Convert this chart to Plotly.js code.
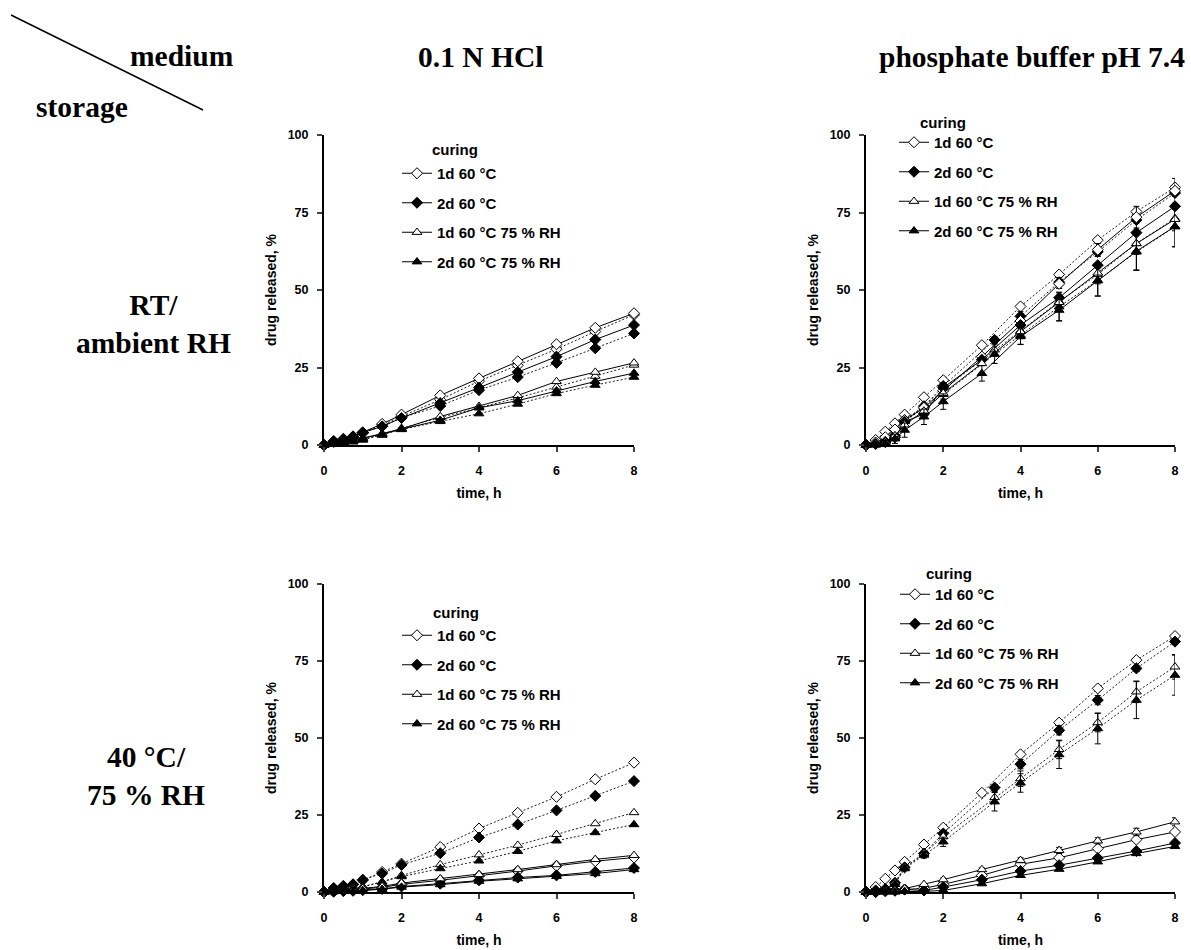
<!DOCTYPE html>
<html>
<head>
<meta charset="utf-8">
<script src="https://cdn.plot.ly/plotly-3.0.1.min.js"></script>
<style>html,body{margin:0;padding:0;background:#fff;}#chart{width:1191px;height:950px;}</style>
</head>
<body>
<div id="chart"></div>
<script>
// ---- data ----
const seriesNames = ["1d 60 °C", "2d 60 °C", "1d 60 °C 75 % RH", "2d 60 °C 75 % RH"];
const timeStd = [0, 0.25, 0.5, 0.75, 1, 1.5, 2, 3, 4, 5, 6, 7, 8];
const timeAlt = [0, 0.25, 0.5, 0.75, 1, 1.5, 2, 3.33, 4, 5, 6, 7, 8];

// 0.1 N HCl, initial (dotted)
const hclInit1 = [0, 1.0, 1.6, 2.4, 3.8, 6.5, 9.2, 14.6, 20.6, 25.7, 30.9, 36.6, 42.0];
const hclInit2 = [0, 1.3, 2.0, 2.5, 4.0, 6.0, 8.8, 12.6, 17.7, 21.9, 26.5, 31.2, 36.0];
const hclInit3 = [0, 0.4, 0.8, 1.2, 1.8, 3.3, 5.4, 8.9, 12.1, 15.2, 18.7, 22.2, 25.8];
const hclInit4 = [0, 0.3, 0.7, 1.0, 1.6, 3.2, 5.0, 7.6, 10.1, 13.2, 16.6, 19.3, 21.9];
// 0.1 N HCl, RT / ambient RH (solid)
const hclRT1 = [0, 1.1, 1.8, 2.8, 4.1, 6.8, 9.8, 16.0, 21.5, 27.0, 32.5, 37.8, 42.5];
const hclRT2 = [0, 1.1, 1.7, 2.7, 4.0, 6.0, 8.7, 13.5, 18.5, 23.5, 28.5, 34.0, 38.7];
const hclRT3 = [0, 0.5, 1.0, 1.5, 2.2, 3.7, 5.2, 9.2, 12.5, 16.0, 20.5, 23.5, 26.5];
const hclRT4 = [0, 0.5, 1.0, 1.5, 2.2, 3.5, 5.1, 8.0, 12.0, 14.3, 17.5, 20.5, 23.2];
// 0.1 N HCl, 40 °C / 75 % RH (solid)
const hcl40_1 = [0, 0.2, 0.4, 0.6, 1.0, 1.5, 2.5, 3.8, 5.2, 6.8, 8.5, 10.0, 11.2];
const hcl40_2 = [0, 0.1, 0.3, 0.4, 0.6, 1.0, 1.8, 2.7, 3.8, 4.7, 5.4, 6.5, 7.8];
const hcl40_3 = [0, 0.2, 0.4, 0.7, 1.2, 1.8, 2.9, 4.3, 5.7, 7.3, 8.9, 10.6, 11.9];
const hcl40_4 = [0, 0.1, 0.2, 0.3, 0.5, 0.9, 1.6, 2.4, 3.5, 4.3, 5.1, 6.0, 7.3];

// phosphate buffer pH 7.4, initial (dotted)
const phInit1 = [0, 1.6, 4.3, 7.0, 9.8, 15.4, 20.9, 32.2, 44.7, 55.0, 66.1, 75.3, 83.1];
const phInit2 = [0, 0.5, 1.0, 3.0, 8.0, 12.5, 19.0, 33.9, 41.5, 52.5, 62.3, 72.6, 81.3];
const phInit3 = [0, 0.3, 1.0, 3.0, 8.0, 12.5, 18.0, 30.7, 36.8, 46.3, 55.0, 65.0, 73.1];
const phInit4 = [0, 0.2, 0.8, 2.5, 7.6, 12.0, 16.3, 29.3, 35.4, 44.6, 53.1, 62.3, 70.4];
const phInitErr2 = [0, 0, 0, 0, 0.5, 0.5, 1, 1, 1.5, 1.5, 1.5, 1, 1];
const phInitErr3 = [0, 0, 0, 0, 0.5, 1, 1.5, 2, 2.5, 3, 3, 3.5, 4];
const phInitErr4 = [0, 0, 0, 0, 0.5, 1, 1.5, 3, 3, 4.5, 5, 6, 6.5];
// phosphate buffer, RT / ambient RH (solid)
const phRT1 = [0, 0.8, 2.5, 5.0, 8.0, 12.0, 17.5, 28.5, 40.0, 52.0, 63.0, 73.5, 82.0];
const phRT2 = [0, 0.3, 1.0, 2.5, 7.5, 10.0, 18.5, 27.5, 38.7, 47.5, 58.0, 68.5, 77.0];
const phRT3 = [0, 0.3, 1.0, 3.0, 6.5, 11.0, 16.7, 26.3, 36.6, 46.0, 55.5, 65.0, 72.8];
const phRT4 = [0, 0.0, 0.5, 2.0, 4.8, 9.1, 14.0, 23.1, 35.0, 43.5, 53.0, 62.5, 70.5];
const phRTErr1 = [0, 0, 0, 0, 0.5, 1, 1, 1, 1, 1.5, 2, 3.5, 4];
const phRTErr4 = [0, 0.5, 1, 1.5, 2.3, 2.5, 2.5, 2.5, 2.5, 3.5, 5, 6, 6.5];
// phosphate buffer, 40 °C / 75 % RH (solid)
const ph40_1 = [0, 0, 0.2, 0.4, 0.8, 1.2, 2.5, 5.4, 9.0, 11.1, 14.1, 17.0, 19.5];
const ph40_2 = [0, 0, 0.5, 0.5, 0.8, 0.5, 1.6, 4.0, 6.8, 8.7, 11.0, 13.3, 15.9];
const ph40_3 = [0, 0, 0.3, 0.5, 1.1, 2.5, 4.0, 7.3, 10.3, 13.5, 16.6, 19.5, 22.8];
const ph40_4 = [0, 0, 0, 0, 0.2, 0.2, 0.5, 2.7, 5.4, 7.4, 9.8, 12.5, 14.8];
const ph40Err3 = [0, 0, 0, 0, 0, 0, 0.5, 0.5, 0.8, 1, 1, 1.2, 1.3];

// ---- layout helpers ----
const W = 1191, H = 950;
const px = x => x / W;
const py = y => 1 - y / H;

const symbols = ["diamond", "diamond", "triangle-up", "triangle-up"];
const fills = ["white", "black", "white", "black"];

function mk(idx, x, y, ax, opts) {
  const o = opts || {};
  const t = {
    type: "scatter", mode: "lines+markers", x: x, y: y,
    xaxis: "x" + (ax === 1 ? "" : ax), yaxis: "y" + (ax === 1 ? "" : ax),
    name: seriesNames[idx], cliponaxis: false,
    line: {color: o.dotted ? "#222" : "black", width: 1, dash: o.dotted ? "2px,2px" : "solid"},
    marker: {symbol: symbols[idx], size: 8.5, color: fills[idx], line: {color: "black", width: 1}},
    showlegend: !o.dotted,
    legend: "legend" + (ax === 1 ? "" : ax),
    legendgroup: "g" + ax + "_" + idx,
    hoverinfo: "skip"
  };
  if (o.err) t.error_y = {type: "data", array: o.err, visible: true, color: "black", thickness: 1, width: 3};
  return t;
}

const traces = [
  // subplot 1: HCl, RT
  mk(0, timeStd, hclInit1, 1, {dotted: true}),
  mk(1, timeStd, hclInit2, 1, {dotted: true}),
  mk(2, timeStd, hclInit3, 1, {dotted: true}),
  mk(3, timeStd, hclInit4, 1, {dotted: true}),
  mk(0, timeStd, hclRT1, 1), mk(1, timeStd, hclRT2, 1), mk(2, timeStd, hclRT3, 1), mk(3, timeStd, hclRT4, 1),
  // subplot 2: phosphate, RT
  mk(0, timeStd, phInit1, 2, {dotted: true}),
  mk(1, timeAlt, phInit2, 2, {dotted: true, err: phInitErr2}),
  mk(2, timeAlt, phInit3, 2, {dotted: true, err: phInitErr3}),
  mk(3, timeAlt, phInit4, 2, {dotted: true, err: phInitErr4}),
  mk(0, timeStd, phRT1, 2, {err: phRTErr1}), mk(1, timeStd, phRT2, 2), mk(2, timeStd, phRT3, 2), mk(3, timeStd, phRT4, 2, {err: phRTErr4}),
  // subplot 3: HCl, 40 °C
  mk(0, timeStd, hclInit1, 3, {dotted: true}),
  mk(1, timeStd, hclInit2, 3, {dotted: true}),
  mk(2, timeStd, hclInit3, 3, {dotted: true}),
  mk(3, timeStd, hclInit4, 3, {dotted: true}),
  mk(0, timeStd, hcl40_1, 3), mk(1, timeStd, hcl40_2, 3), mk(2, timeStd, hcl40_3, 3), mk(3, timeStd, hcl40_4, 3),
  // subplot 4: phosphate, 40 °C
  mk(0, timeStd, phInit1, 4, {dotted: true}),
  mk(1, timeAlt, phInit2, 4, {dotted: true, err: phInitErr2}),
  mk(2, timeAlt, phInit3, 4, {dotted: true, err: phInitErr3}),
  mk(3, timeAlt, phInit4, 4, {dotted: true, err: phInitErr4}),
  mk(0, timeStd, ph40_1, 4), mk(1, timeStd, ph40_2, 4), mk(2, timeStd, ph40_3, 4, {err: ph40Err3}), mk(3, timeStd, ph40_4, 4)
];

const sans = "Liberation Sans, Arial, sans-serif";
const serif = "Liberation Serif, Times New Roman, serif";
const tickFont = {family: sans, size: 12.5, color: "black", weight: 700};
const titleFont = {family: sans, size: 14, color: "black", weight: 700};

function xax(dom, anchor) {
  return {domain: dom, anchor: anchor, range: [0, 8], tickvals: [0, 2, 4, 6, 8], ticks: "outside", ticklen: 5, tickwidth: 2,
    showline: true, linewidth: 2, linecolor: "black", showgrid: false, zeroline: false, tickfont: tickFont,
    ticklabelstandoff: 8, title: {text: "time, h", font: titleFont, standoff: 11}, fixedrange: true};
}
function yax(dom, anchor) {
  return {domain: dom, anchor: anchor, range: [0, 100], tickvals: [0, 25, 50, 75, 100], ticks: "outside", ticklen: 5, tickwidth: 2,
    showline: true, linewidth: 2, linecolor: "black", showgrid: false, zeroline: false, tickfont: tickFont,
    ticklabelstandoff: 6, title: {text: "drug released, %", font: titleFont, standoff: 8}, fixedrange: true};
}

const xL = [px(324), px(634)], xR = [px(866), px(1175)];
const yT = [py(445), py(135)], yB = [py(892), py(584)];

function leg(xLine, yFirst) {
  return {x: px(xLine - 3), y: py(yFirst - 16), xanchor: "left", yanchor: "top", bgcolor: "rgba(0,0,0,0)",
    borderwidth: 0, font: {family: sans, size: 15, color: "black", weight: 700}, traceorder: "grouped", tracegroupgap: 7,
    itemclick: false, itemdoubleclick: false};
}

function ann(text, x, y, font) {
  return {text: text, x: px(x), y: py(y), xref: "paper", yref: "paper", showarrow: false, xanchor: "center", yanchor: "middle", font: font, align: "center"};
}
const bigFont = {family: serif, size: 29.5, color: "black", weight: 700};
const curFont = {family: sans, size: 15, color: "black", weight: 700};

const layout = {
  width: W, height: H, autosize: false,
  margin: {l: 0, r: 0, t: 0, b: 0},
  paper_bgcolor: "white", plot_bgcolor: "white",
  xaxis: xax(xL, "y"), yaxis: yax(yT, "x"),
  xaxis2: xax(xR, "y2"), yaxis2: yax(yT, "x2"),
  xaxis3: xax(xL, "y3"), yaxis3: yax(yB, "x3"),
  xaxis4: xax(xR, "y4"), yaxis4: yax(yB, "x4"),
  legend: leg(400, 173), legend2: leg(897, 142), legend3: leg(400, 635), legend4: leg(898, 594),
  shapes: [{type: "line", xref: "paper", yref: "paper", x0: px(11), y0: py(15), x1: px(203), y1: py(110), line: {color: "black", width: 1.5}}],
  annotations: [
    ann("medium", 182, 56, bigFont),
    ann("storage", 82, 107, bigFont),
    ann("0.1 N HCl", 480, 57, bigFont),
    ann("phosphate buffer pH 7.4", 1032, 57, bigFont),
    ann("RT/<br>ambient RH", 153, 324, bigFont),
    ann("40 °C/<br>75 % RH", 146, 776, bigFont),
    ann("curing", 455, 149, curFont),
    ann("curing", 943, 122, curFont),
    ann("curing", 456, 612, curFont),
    ann("curing", 949, 573, curFont)
  ],
  showlegend: true
};

Plotly.newPlot("chart", traces, layout, {displayModeBar: false, staticPlot: true});
</script>
</body>
</html>
